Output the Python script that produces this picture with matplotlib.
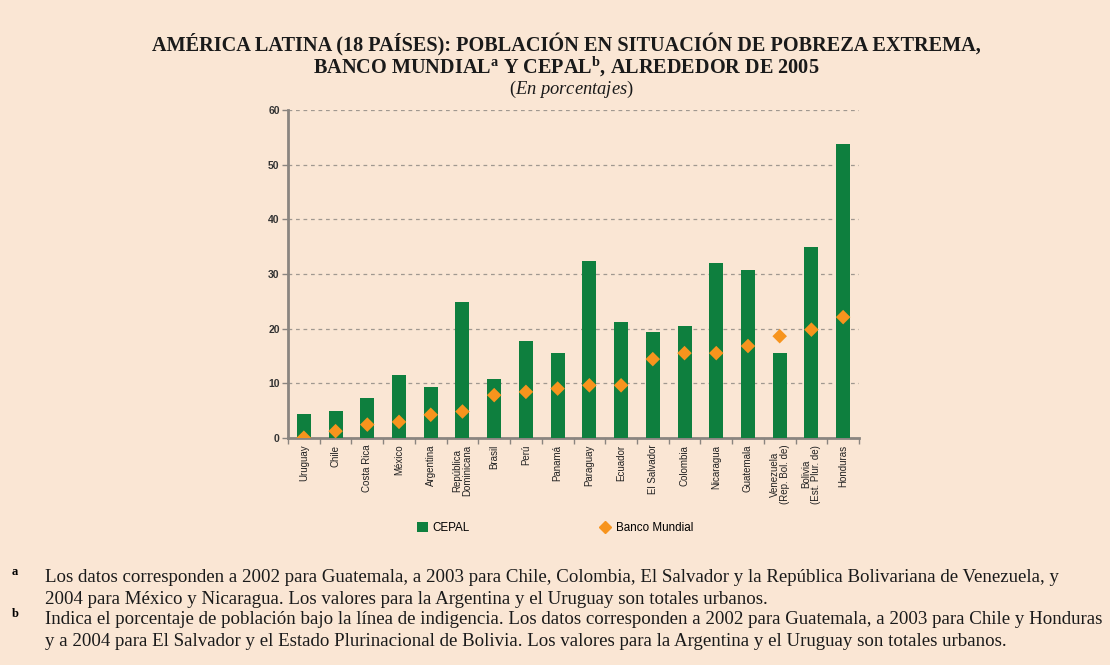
import matplotlib
matplotlib.use("Agg")
import matplotlib.pyplot as plt
from matplotlib.lines import Line2D
from matplotlib.patches import Patch

plt.rcParams['mathtext.fontset'] = 'custom'
plt.rcParams['mathtext.rm'] = 'Liberation Serif'
plt.rcParams['mathtext.bf'] = 'Liberation Serif:bold'
plt.rcParams['mathtext.it'] = 'Liberation Serif:italic'

countries = ["Uruguay", "Chile", "Costa Rica", "México", "Argentina",
             "República\nDominicana", "Brasil", "Perú", "Panamá", "Paraguay",
             "Ecuador", "El Salvador", "Colombia", "Nicaragua", "Guatemala",
             "Venezuela\n(Rep. Bol. de)", "Bolivia\n(Est. Plur. de)", "Honduras"]
cepal = [4.3, 4.9, 7.2, 11.4, 9.2, 24.8, 10.8, 17.7, 15.6, 32.3,
         21.2, 19.3, 20.5, 32.0, 30.7, 15.6, 34.9, 53.8]
banco_mundial = [0.0, 1.2, 2.4, 2.9, 4.2, 4.8, 7.8, 8.4, 9.0, 9.6,
                 9.6, 14.4, 15.5, 15.5, 16.8, 18.6, 19.8, 22.1]
yticks = [0, 10, 20, 30, 40, 50, 60]

BG = "#FAE6D4"
GREEN = "#0E7F3E"
ORANGE = "#F7941D"

fig = plt.figure(figsize=(11.1, 6.65), dpi=100, facecolor=BG)
ax = fig.add_axes([288/1110, 1-437.7/665, (859-288)/1110, (437.7-110.3)/665])
ax.set_facecolor(BG)

x = list(range(len(countries)))
ax.bar(x, cepal, width=0.44, color=GREEN, zorder=3, label="CEPAL")
ax.scatter(x, banco_mundial, marker="D", s=55, color=ORANGE, zorder=4,
           edgecolors="none", label="Banco Mundial")

ax.set_xlim(-0.5, len(countries) - 0.5)
ax.set_ylim(0, 60)
ax.set_yticks(yticks)
ax.set_yticklabels([str(v) for v in yticks], fontsize=7.5, fontweight="bold",
                   color="#333333", family="Liberation Sans")
ax.yaxis.grid(True, linestyle=(0, (3, 3)), color="#A09890", linewidth=0.9, zorder=1)
ax.set_axisbelow(True)

ax.set_xticks(x)
ax.set_xticklabels(countries, rotation=90, fontsize=7, family="Liberation Sans",
                   va="top", ha="center", linespacing=1.0, color="#222222")
ax.tick_params(axis="x", which="major", length=0, pad=5)
ax.set_xticks([i - 0.5 for i in range(len(countries) + 1)], minor=True)
ax.tick_params(axis="x", which="minor", length=4, color="#8a8580", width=1)
ax.tick_params(axis="y", length=4, color="#8a8580", width=1, pad=2)

for s in ["top", "right"]:
    ax.spines[s].set_visible(False)
ax.spines["left"].set_color("#8a8580")
ax.spines["left"].set_linewidth(2)
ax.spines["bottom"].set_color("#8a8580")
ax.spines["bottom"].set_linewidth(2)

# Title
fig.text(566/1110, 1-45/665, "AMÉRICA LATINA (18 PAÍSES): POBLACIÓN EN SITUACIÓN DE POBREZA EXTREMA,",
         ha="center", va="center", fontsize=14.6, fontweight="bold",
         family="Liberation Serif", color="#1a1a1a")
fig.text(566/1110, 1-67/665,
         r"BANCO MUNDIAL$^{\mathbf{a}}$ Y CEPAL$^{\mathbf{b}}$, ALREDEDOR DE 2005",
         ha="center", va="center", fontsize=14.6, fontweight="bold",
         family="Liberation Serif", color="#1a1a1a")
fig.text(571/1110, 1-89/665, r"($\mathit{En\ porcentajes}$)", ha="center", va="center",
         fontsize=13.3, family="Liberation Serif", color="#1a1a1a")

# Legend (two entries placed separately)
leg_prop = {"family": "Liberation Sans", "size": 8.4}
h1 = [Patch(facecolor=GREEN, edgecolor="none", label="CEPAL")]
h2 = [Line2D([], [], marker="D", color=ORANGE, linestyle="none",
             markersize=6.5, label="Banco Mundial")]
l1 = fig.legend(handles=h1, loc="center left", bbox_to_anchor=(417/1110, 1-528/665),
                frameon=False, prop=leg_prop, handlelength=0.9, handleheight=0.9,
                handletextpad=0.45, borderpad=0, borderaxespad=0)
l2 = fig.legend(handles=h2, loc="center left", bbox_to_anchor=(600/1110, 1-528/665),
                frameon=False, prop=leg_prop, handlelength=0.9,
                handletextpad=0.45, borderpad=0, borderaxespad=0)

# Footnotes
fn_kw = dict(fontsize=13.6, family="Liberation Serif", color="#1a1a1a", va="center")
fig.text(12/1110, 1-572/665, "a", fontsize=9, fontweight="bold",
         family="Liberation Serif", va="center")
fig.text(45/1110, 1-578/665,
         "Los datos corresponden a 2002 para Guatemala, a 2003 para Chile, Colombia, El Salvador y la República Bolivariana de Venezuela, y",
         **fn_kw)
fig.text(45/1110, 1-599/665,
         "2004 para México y Nicaragua. Los valores para la Argentina y el Uruguay son totales urbanos.",
         **fn_kw)
fig.text(12/1110, 1-614/665, "b", fontsize=9, fontweight="bold",
         family="Liberation Serif", va="center")
fig.text(45/1110, 1-620/665,
         "Indica el porcentaje de población bajo la línea de indigencia. Los datos corresponden a 2002 para Guatemala, a 2003 para Chile y Honduras",
         **fn_kw)
fig.text(45/1110, 1-641/665,
         "y a 2004 para El Salvador y el Estado Plurinacional de Bolivia. Los valores para la Argentina y el Uruguay son totales urbanos.",
         **fn_kw)

fig.savefig("out.png", dpi=100, facecolor=BG)
